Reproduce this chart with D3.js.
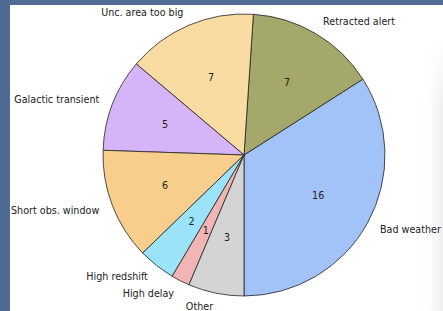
<!DOCTYPE html>
<html lang="en">
<head>
    <meta charset="UTF-8">
    <title>Pie</title>
    <style>
        body { margin: 0; background: #fff; }
        svg { display: block; font-family: "DejaVu Sans", sans-serif; }
    </style>
</head>
<body>
    <svg id="pie" width="443" height="311"></svg>
    <script src="https://d3js.org/d3.v7.min.js"></script>
    <script>
        const labels = ["Bad weather", "Retracted alert", "Unc. area too big", "Galactic transient",
                        "Short obs. window", "High redshift", "High delay", "Other"];
        const counts = [16, 7, 7, 5, 6, 2, 1, 3];
        const colors = ["#a2c3f8", "#a4a86a", "#f8dca2", "#d5b5f8",
                        "#f7ce8b", "#9be3f9", "#f2b5b5", "#d4d4d4"];

        const width = 443, height = 311;
        const cx = 244, cy = 155, r = 141;

        const svg = d3.select("#pie");

        // ombre legere a droite
        const defs = svg.append("defs");
        const grad = defs.append("linearGradient")
            .attr("id", "shade").attr("x1", 0).attr("x2", 1).attr("y1", 0).attr("y2", 0);
        grad.append("stop").attr("offset", 0).attr("stop-color", "#fff").attr("stop-opacity", 0);
        grad.append("stop").attr("offset", 1).attr("stop-color", "#eeeeee").attr("stop-opacity", 1);
        const mask = defs.append("linearGradient")
            .attr("id", "fadeY").attr("x1", 0).attr("x2", 0).attr("y1", 0).attr("y2", 1);
        mask.append("stop").attr("offset", 0).attr("stop-color", "#000");
        mask.append("stop").attr("offset", 0.25).attr("stop-color", "#fff");
        defs.append("mask").attr("id", "m")
            .append("rect").attr("x", 420).attr("y", 40).attr("width", 23).attr("height", 271)
            .attr("fill", "url(#fadeY)");
        svg.append("rect").attr("x", 420).attr("y", 40).attr("width", 23).attr("height", 271)
            .attr("fill", "url(#shade)").attr("mask", "url(#m)");

        // cadre bleu (bord gauche + haut)
        svg.append("rect").attr("x", 0).attr("y", 0).attr("width", width).attr("height", 5).attr("fill", "#4f6a93");
        svg.append("rect").attr("x", 0).attr("y", 0).attr("width", 10).attr("height", height).attr("fill", "#4f6a93");

        const data = labels.map((l, i) => ({ label: l, value: counts[i], color: colors[i] }));

        // matplotlib : startangle=-90, sens anti-horaire
        const pie = d3.pie().value(d => d.value).sort(null)
            .startAngle(Math.PI).endAngle(-Math.PI);

        const arcs = pie(data);
        const arc = d3.arc().innerRadius(0).outerRadius(r);

        const g = svg.append("g").attr("transform", `translate(${cx},${cy})`);

        g.selectAll("path")
            .data(arcs)
            .enter()
            .append("path")
            .attr("d", arc)
            .attr("fill", d => d.data.color)
            .attr("stroke", "#222")
            .attr("stroke-width", 0.8)
            .attr("stroke-linejoin", "round");

        function pos(d, k) {
            const a = (d.startAngle + d.endAngle) / 2;
            return [k * r * Math.sin(a), -k * r * Math.cos(a)];
        }

        // valeurs
        g.selectAll(".val")
            .data(arcs)
            .enter()
            .append("text")
            .attr("class", "val")
            .attr("x", d => pos(d, 0.6)[0])
            .attr("y", d => pos(d, 0.6)[1])
            .attr("text-anchor", "middle")
            .attr("dominant-baseline", "central")
            .attr("font-size", 9.6)
            .attr("fill", "#222")
            .text(d => d.data.value);

        // etiquettes
        g.selectAll(".lab")
            .data(arcs)
            .enter()
            .append("text")
            .attr("class", "lab")
            .attr("x", d => pos(d, 1.1)[0])
            .attr("y", d => pos(d, 1.1)[1])
            .attr("text-anchor", d => pos(d, 1.1)[0] > 0 ? "start" : "end")
            .attr("dominant-baseline", "central")
            .attr("font-size", 9.6)
            .attr("fill", "#222")
            .text(d => d.data.label);
    </script>
</body>
</html>
